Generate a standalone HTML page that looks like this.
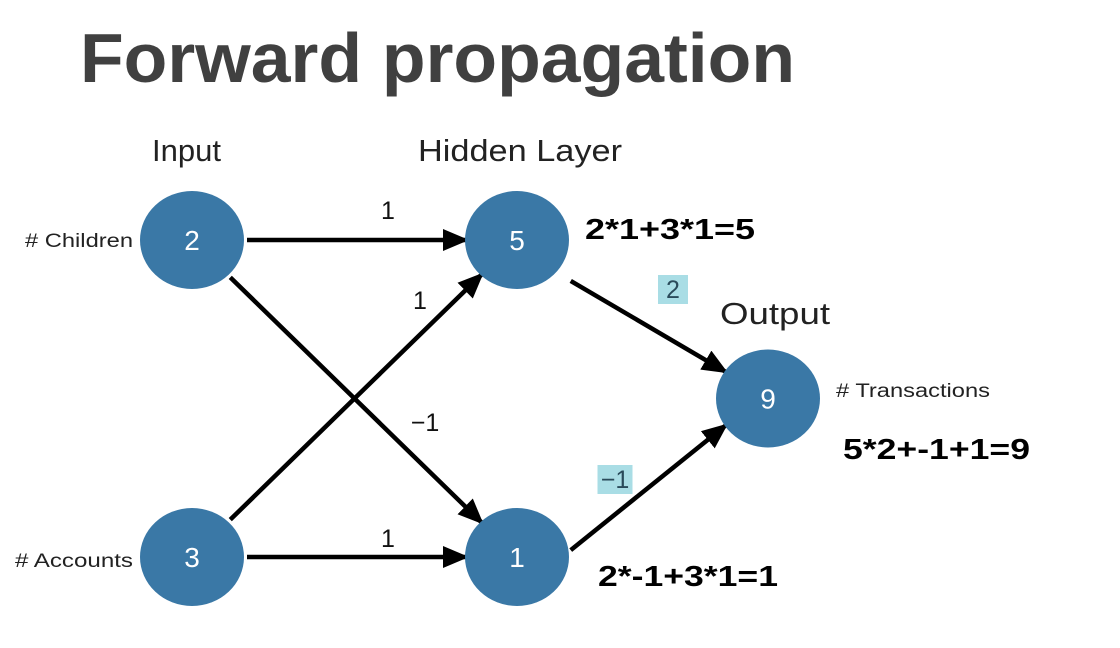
<!DOCTYPE html>
<html><head><meta charset="utf-8"><style>
html,body{margin:0;padding:0;background:#fff;}
svg{display:block;font-family:"Liberation Sans",sans-serif;}
</style></head><body>
<svg id="chart" width="1120" height="648" viewBox="0 0 1120 648">
<defs>
<marker id="ahb" markerWidth="26" markerHeight="22" refX="24" refY="11" orient="auto" markerUnits="userSpaceOnUse"><path d="M0,0 L26,11 L0,22 z" fill="#000"/></marker></defs>
<text x="80" y="82" font-size="70" font-weight="bold" fill="#404040" textLength="715" lengthAdjust="spacingAndGlyphs">Forward propagation</text>
<text x="152" y="161" font-size="31" fill="#222">Input</text>
<text x="418" y="161" font-size="31" fill="#222" textLength="204" lengthAdjust="spacingAndGlyphs">Hidden Layer</text>
<text x="720" y="324" font-size="31" fill="#222" textLength="110" lengthAdjust="spacingAndGlyphs">Output</text>
<g id="edges"></g>
<g id="nodes"></g>
<text x="25" y="247" font-size="19" fill="#222" textLength="108" lengthAdjust="spacingAndGlyphs"># Children</text>
<text x="15" y="567" font-size="19" fill="#222" textLength="118" lengthAdjust="spacingAndGlyphs"># Accounts</text>
<text x="836" y="397" font-size="19" fill="#222" textLength="154" lengthAdjust="spacingAndGlyphs"># Transactions</text>
<text x="585" y="239" font-size="29" font-weight="bold" fill="#000" textLength="170" lengthAdjust="spacingAndGlyphs">2*1+3*1=5</text>
<text x="598" y="586" font-size="29" font-weight="bold" fill="#000" textLength="180" lengthAdjust="spacingAndGlyphs">2*-1+3*1=1</text>
<text x="843" y="459" font-size="29" font-weight="bold" fill="#000" textLength="187" lengthAdjust="spacingAndGlyphs">5*2+-1+1=9</text>
</svg>
<script>
const nodeIds = ["in1","in2","h1","h2","out"];
const nodeValues = [2, 3, 5, 1, 9];
const nodeCol = [0, 0, 1, 1, 2];
const nodeRow = [0, 2, 0, 2, 1];
const edgeFrom = ["in1","in1","in2","in2","h1","h2"];
const edgeTo = ["h1","h2","h1","h2","out","out"];
const edgeWeights = ["1","-1","1","1","2","-1"];
const edgeBoxed = [false,false,false,false,true,true];
const ns="http://www.w3.org/2000/svg";
const xCol=c=>[192,517,768][c];
const yRow=r=>240+r*158.5;
const rx=52, ry=49;
const labelLayout={ "in1-h1":[388,210], "in1-h2":[425,422], "in2-h1":[420,300], "in2-h2":[388,538], "h1-out":[673,289], "h2-out":[615,479] };
// start-point nudges (layout only) for edges leaving hidden nodes
const startNudge={ "h1-out":[8,12], "h2-out":[8,22] };
const pos={};
nodeIds.forEach((id,i)=>{pos[id]={x:xCol(nodeCol[i]),y:yRow(nodeRow[i])};});
const eg=document.getElementById('edges'), ng=document.getElementById('nodes');
edgeFrom.forEach((f,i)=>{
  const key=f+'-'+edgeTo[i];
  const a=pos[f], b=pos[edgeTo[i]];
  const dx=b.x-a.x, dy=b.y-a.y, L=Math.hypot(dx,dy), ux=dx/L, uy=dy/L;
  const ex=(u,v)=>1/Math.sqrt((u*u)/(rx*rx)+(v*v)/(ry*ry));
  const s=ex(ux,uy);
  const n=startNudge[key]||[0,0];
  const x1=a.x+ux*(s+3)+n[0], y1=a.y+uy*(s+3)+n[1], x2=b.x-ux*(s-2), y2=b.y-uy*(s-2);
  const ln=document.createElementNS(ns,'line');
  
  
  ln.setAttribute('x1',x1);ln.setAttribute('y1',y1);ln.setAttribute('x2',x2);ln.setAttribute('y2',y2);
  ln.setAttribute('stroke','#000');ln.setAttribute('stroke-width','4.5');ln.setAttribute('marker-end','url(#ahb)');
  eg.appendChild(ln);
  const lp=labelLayout[key];
  const lx=lp[0], ly=lp[1];
  if(edgeBoxed[i]){
    const w=edgeWeights[i].length>1?35:30;
    const r=document.createElementNS(ns,'rect');
    
    
    r.setAttribute('x',lx-w/2);r.setAttribute('y',ly-14);r.setAttribute('width',w);r.setAttribute('height',29);
    r.setAttribute('fill','#a9dde5');eg.appendChild(r);
  }
  const tx=document.createElementNS(ns,'text');
  
  
  tx.setAttribute('x',lx);tx.setAttribute('y',ly+9);tx.setAttribute('text-anchor','middle');
  tx.setAttribute('font-size','25');tx.setAttribute('fill',edgeBoxed[i]?'#2a4a5a':'#111');
  tx.textContent=edgeWeights[i].replace('-','\u2212');
  eg.appendChild(tx);
});
nodeIds.forEach((id,i)=>{
  const p=pos[id];
  const e=document.createElementNS(ns,'ellipse');
  
  
  e.setAttribute('cx',p.x);e.setAttribute('cy',p.y);e.setAttribute('rx',rx);e.setAttribute('ry',ry);
  e.setAttribute('fill','#3a78a6');ng.appendChild(e);
  const t=document.createElementNS(ns,'text');
  
  
  t.setAttribute('x',p.x);t.setAttribute('y',p.y+10);t.setAttribute('text-anchor','middle');
  t.setAttribute('font-size','28');t.setAttribute('fill','#fff');
  t.textContent=nodeValues[i];ng.appendChild(t);
});
</script>
</body></html>
